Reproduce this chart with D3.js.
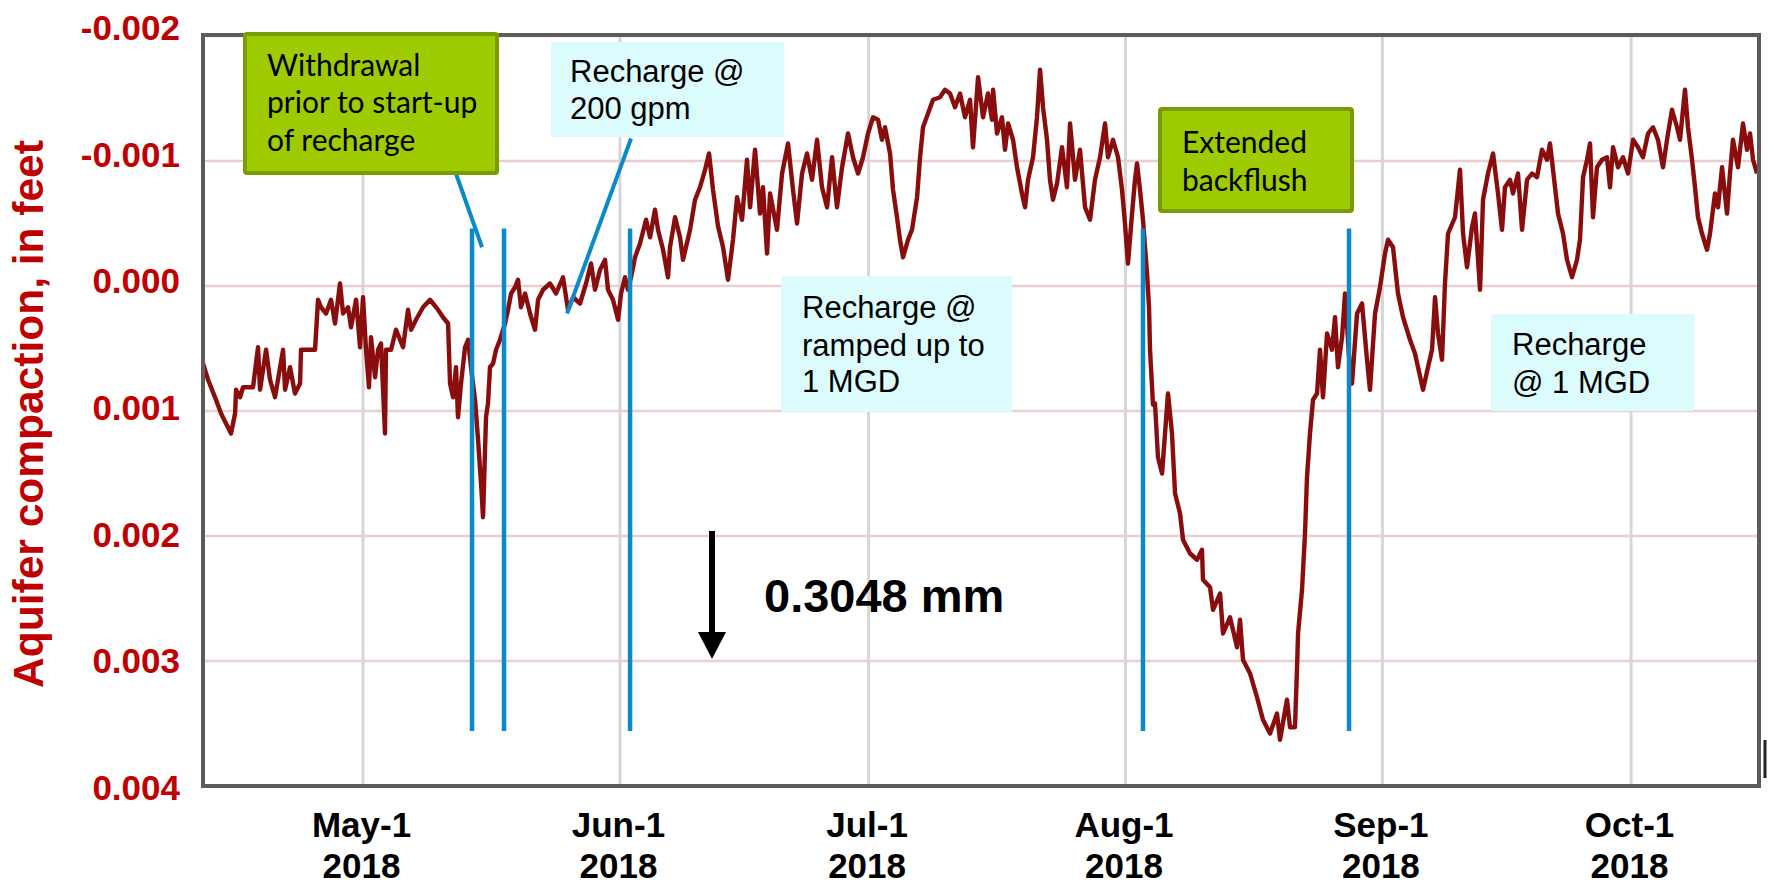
<!DOCTYPE html>
<html>
<head>
<meta charset="utf-8">
<script src="https://cdn.jsdelivr.net/npm/d3@7"></script>
<style>
  body { margin: 0; background: #fff; }
  .chart text { font-family: "Liberation Sans", Arial, sans-serif; }
  .chart .calibri { font-family: Lato, "Open Sans", sans-serif; }
</style>
</head>
<body>
<div class="chart"></div>
<script>
// days since Jan 1 2018 (fractional) and aquifer compaction in feet
const daysSinceJan1 = [
  100.69,101.30,102.26,102.87,103.47,104.07,104.56,104.68,105.16,105.52,
  106.73,107.33,107.57,108.30,108.78,109.38,110.35,110.59,111.19,111.79,
  112.40,112.52,113.60,114.21,114.57,114.93,115.54,116.14,116.62,117.22,
  117.59,118.19,118.55,119.16,119.64,120.00,120.36,120.72,120.96,121.45,
  121.81,122.17,122.65,122.77,123.38,123.98,124.83,125.43,125.79,126.39,
  127.24,128.08,128.45,129.05,129.65,130.26,130.50,130.86,131.22,131.46,
  131.82,132.31,132.67,133.03,133.51,133.88,134.24,134.48,134.72,134.84,
  135.08,135.32,135.69,136.05,136.53,137.13,137.50,137.86,138.34,138.70,
  139.06,139.55,140.15,140.75,141.12,141.72,142.56,143.29,144.13,144.73,
  145.34,146.18,146.91,147.51,147.99,148.60,149.20,149.56,150.16,150.77,
  151.13,151.61,151.97,152.34,152.82,153.42,154.15,154.63,155.23,155.59,
  156.20,156.80,157.04,157.65,158.25,158.61,159.46,160.06,160.66,161.27,
  161.75,162.23,162.83,163.44,164.04,164.64,165.13,165.73,166.33,166.70,
  167.30,167.90,168.26,168.75,169.11,169.95,170.56,171.28,171.88,172.37,
  172.97,173.57,174.18,174.78,175.38,175.99,176.59,177.19,177.80,178.52,
  179.12,179.73,180.33,180.93,181.54,182.14,182.62,182.98,183.59,183.95,
  184.43,184.79,185.16,185.76,186.24,186.85,187.21,187.57,188.17,188.78,
  189.62,190.22,190.83,191.43,192.03,192.64,193.24,193.60,194.21,194.81,
  195.41,195.89,196.02,196.50,197.10,197.46,197.83,198.43,198.91,199.51,
  199.88,200.24,200.84,201.32,201.69,202.05,202.53,202.89,203.25,203.74,
  204.34,204.94,205.31,205.91,206.51,207.12,207.72,208.32,208.93,209.53,
  209.89,210.49,211.10,211.58,211.94,212.30,212.79,213.15,213.39,213.75,
  214.11,214.60,214.84,214.96,215.32,215.56,215.92,216.41,216.77,217.13,
  217.61,217.98,218.58,218.94,219.79,220.63,221.23,221.35,222.20,222.56,
  223.41,223.77,224.61,225.46,225.82,226.18,227.03,227.87,228.59,229.44,
  230.28,230.64,231.49,231.85,232.45,232.70,232.82,233.30,233.66,233.90,
  234.26,234.63,235.11,235.47,235.83,236.32,236.92,237.28,237.64,238.13,
  238.49,238.85,239.09,239.33,239.94,240.54,241.14,241.50,242.11,242.71,
  243.31,243.68,244.28,244.88,245.49,246.33,246.93,247.30,247.90,248.50,
  248.99,249.35,249.71,250.19,250.55,250.92,251.76,252.36,252.73,253.21,
  253.81,254.17,254.78,255.14,255.74,256.35,256.95,257.43,257.79,258.40,
  258.76,259.36,259.85,260.45,261.05,261.65,262.26,262.86,263.22,263.83,
  264.19,264.79,265.27,265.88,266.48,266.84,267.21,267.69,268.05,268.41,
  268.89,269.50,270.10,270.46,270.83,271.43,272.03,272.64,273.24,273.84,
  274.44,275.05,275.65,276.25,276.86,277.34,277.94,278.55,278.91,279.51,
  279.87,280.36,280.72,281.08,281.56,282.17,282.53,283.13,283.49,283.98,
  284.58,284.94,285.30,285.91,286.51,286.99,287.36,287.72,288.20
];

const compaction = [
  0.00062,0.00075,0.00091,0.00102,0.00110,0.00118,0.00102,0.00083,0.00089,0.00081,
  0.00081,0.00049,0.00083,0.00051,0.00075,0.00089,0.00051,0.00083,0.00065,0.00086,
  0.00078,0.00051,0.00051,0.00051,0.00011,0.00017,0.00022,0.00011,0.00030,-0.00002,
  0.00022,0.00017,0.00033,0.00011,0.00049,0.00009,0.00051,0.00081,0.00041,0.00073,
  0.00051,0.00046,0.00118,0.00051,0.00051,0.00035,0.00049,0.00019,0.00035,0.00027,
  0.00017,0.00011,0.00014,0.00019,0.00025,0.00030,0.00078,0.00089,0.00065,0.00105,
  0.00078,0.00049,0.00043,0.00065,0.00091,0.00123,0.00158,0.00185,0.00131,0.00105,
  0.00094,0.00065,0.00062,0.00051,0.00043,0.00030,0.00019,0.00006,0.00001,-0.00005,
  0.00017,0.00006,0.00022,0.00035,0.00011,0.00003,-0.00002,0.00006,-0.00007,0.00019,
  0.00009,0.00014,-0.00002,-0.00018,0.00003,-0.00013,-0.00021,0.00003,0.00011,0.00027,
  0.00006,-0.00007,0.00003,-0.00007,-0.00023,-0.00034,-0.00053,-0.00039,-0.00061,-0.00045,
  -0.00029,-0.00007,-0.00031,-0.00055,-0.00039,-0.00021,-0.00045,-0.00069,-0.00079,-0.00093,
  -0.00106,-0.00077,-0.00048,-0.00031,-0.00005,-0.00037,-0.00071,-0.00053,-0.00101,-0.00063,
  -0.00109,-0.00058,-0.00079,-0.00026,-0.00074,-0.00045,-0.00090,-0.00114,-0.00077,-0.00050,
  -0.00090,-0.00106,-0.00085,-0.00117,-0.00079,-0.00063,-0.00103,-0.00063,-0.00095,-0.00122,
  -0.00103,-0.00090,-0.00103,-0.00122,-0.00135,-0.00133,-0.00117,-0.00127,-0.00106,-0.00077,
  -0.00055,-0.00037,-0.00023,-0.00037,-0.00045,-0.00071,-0.00103,-0.00127,-0.00138,-0.00149,
  -0.00151,-0.00157,-0.00154,-0.00143,-0.00154,-0.00135,-0.00149,-0.00111,-0.00167,-0.00135,
  -0.00154,-0.00133,-0.00157,-0.00122,-0.00135,-0.00109,-0.00130,-0.00117,-0.00095,-0.00074,
  -0.00063,-0.00085,-0.00103,-0.00135,-0.00173,-0.00143,-0.00117,-0.00085,-0.00069,-0.00082,
  -0.00111,-0.00079,-0.00130,-0.00085,-0.00109,-0.00063,-0.00053,-0.00085,-0.00103,-0.00130,
  -0.00103,-0.00117,-0.00103,-0.00077,-0.00050,-0.00018,-0.00058,-0.00085,-0.00098,-0.00077,
  -0.00053,-0.00010,0.00017,0.00051,0.00095,0.00094,0.00137,0.00150,0.00118,0.00086,
  0.00118,0.00166,0.00182,0.00203,0.00214,0.00219,0.00211,0.00235,0.00241,0.00259,
  0.00246,0.00278,0.00265,0.00289,0.00267,0.00299,0.00310,0.00329,0.00347,0.00358,
  0.00342,0.00363,0.00331,0.00353,0.00353,0.00305,0.00278,0.00243,0.00198,0.00153,
  0.00118,0.00091,0.00086,0.00051,0.00089,0.00038,0.00051,0.00025,0.00065,0.00041,
  0.00006,0.00043,0.00070,0.00078,0.00022,0.00014,0.00059,0.00083,0.00022,0.00001,
  -0.00026,-0.00037,-0.00031,0.00006,0.00025,0.00043,0.00054,0.00065,0.00083,0.00065,
  0.00051,0.00009,0.00038,0.00059,-0.00002,-0.00042,-0.00055,-0.00093,-0.00042,-0.00015,
  -0.00047,-0.00058,0.00003,-0.00069,-0.00090,-0.00106,-0.00074,-0.00045,-0.00079,-0.00085,
  -0.00074,-0.00090,-0.00045,-0.00085,-0.00090,-0.00087,-0.00109,-0.00101,-0.00114,-0.00079,
  -0.00058,-0.00042,-0.00021,-0.00007,-0.00021,-0.00037,-0.00087,-0.00101,-0.00114,-0.00055,
  -0.00095,-0.00101,-0.00103,-0.00079,-0.00111,-0.00095,-0.00103,-0.00090,-0.00117,-0.00111,
  -0.00103,-0.00122,-0.00127,-0.00117,-0.00095,-0.00117,-0.00141,-0.00127,-0.00117,-0.00157,
  -0.00127,-0.00101,-0.00079,-0.00055,-0.00042,-0.00029,-0.00042,-0.00074,-0.00063,-0.00095,
  -0.00058,-0.00090,-0.00117,-0.00095,-0.00130,-0.00109,-0.00122,-0.00101,-0.00090
];

const monthStarts = ['2018-05-01', '2018-06-01', '2018-07-01', '2018-08-01', '2018-09-01', '2018-10-01'];
const monthLabels = ['May-1', 'Jun-1', 'Jul-1', 'Aug-1', 'Sep-1', 'Oct-1'];
const yearLabel = '2018';
const yTicks = [-0.002, -0.001, 0.000, 0.001, 0.002, 0.003, 0.004];

// blue event lines (days since Jan 1)
const eventDays = [133.15, 137.01, 152.22, 214.11, 238.97];

const margin = { top: 36, right: 10, bottom: 100, left: 203 };
const fullWidth = 1769;
const fullHeight = 886;
const width = fullWidth - margin.left - margin.right;
const height = fullHeight - margin.top - margin.bottom;

const toDate = d => new Date(Date.UTC(2018, 0, 1) + d * 864e5);
const data = daysSinceJan1.map((d, i) => ({ date: toDate(d), value: compaction[i] }));

const svg = d3.select('.chart')
  .append('svg')
    .attr('width', fullWidth)
    .attr('height', fullHeight);

const defs = svg.append('defs');
defs.append('clipPath').attr('id', 'plot-clip')
  .append('rect').attr('x', 0).attr('y', 0).attr('width', width).attr('height', height);
defs.append('filter').attr('id', 'soft')
  .append('feGaussianBlur').attr('stdDeviation', 0.6);

const chart = svg.append('g')
  .attr('transform', `translate(${margin.left}, ${margin.top})`);

const xScale = d3.scaleUtc()
  .domain([toDate(100.69), toDate(288.44)])
  .range([0, width]);

const yScale = d3.scaleLinear()
  .domain([-0.002, 0.004])
  .range([0, height]);

// tick labels in the source sit slightly off the grid lines
const labelY = d3.scaleLinear()
  .domain([-0.002, 0.004])
  .range([-9, height + 1]);

const parseDay = d3.utcParse('%Y-%m-%d');
const monthDates = monthStarts.map(parseDay);

// grid
chart.append('g')
  .selectAll('line')
  .data(yTicks)
  .enter()
  .append('line')
    .attr('x1', 0).attr('x2', width)
    .attr('y1', d => yScale(d)).attr('y2', d => yScale(d))
    .attr('stroke', '#ebcfcf')
    .attr('stroke-width', 2.5);

chart.append('g')
  .selectAll('line')
  .data(monthDates)
  .enter()
  .append('line')
    .attr('x1', d => xScale(d)).attr('x2', d => xScale(d))
    .attr('y1', 0).attr('y2', height)
    .attr('stroke', '#d6d6d6')
    .attr('stroke-width', 3);

// data line
const line = d3.line()
  .x(d => xScale(d.date))
  .y(d => yScale(d.value));

chart.append('path')
  .datum(data)
  .attr('clip-path', 'url(#plot-clip)')
  .attr('d', line)
  .attr('fill', 'none')
  .attr('stroke', '#8a0a0a')
  .attr('stroke-width', 4.4)
  .attr('stroke-linejoin', 'round')
  .attr('filter', 'url(#soft)');

// event lines
const blue = '#0a8bc9';
chart.append('g')
  .selectAll('line')
  .data(eventDays)
  .enter()
  .append('line')
    .attr('x1', d => xScale(toDate(d))).attr('x2', d => xScale(toDate(d)))
    .attr('y1', yScale(-0.00046)).attr('y2', yScale(0.00356))
    .attr('stroke', blue)
    .attr('stroke-width', 4.5);

// leader lines from the boxes
const leaders = [
  [[131.10, -0.00092], [134.36, -0.00031]],
  [[152.34, -0.00118], [144.61, 0.00022]]
];
chart.append('g')
  .selectAll('line')
  .data(leaders)
  .enter()
  .append('line')
    .attr('x1', d => xScale(toDate(d[0][0]))).attr('y1', d => yScale(d[0][1]))
    .attr('x2', d => xScale(toDate(d[1][0]))).attr('y2', d => yScale(d[1][1]))
    .attr('stroke', blue)
    .attr('stroke-width', 4);

// frame
chart.append('rect')
  .attr('x', 0).attr('y', -1)
  .attr('width', width).attr('height', height + 1)
  .attr('fill', 'none')
  .attr('stroke', '#5c5c5c')
  .attr('stroke-width', 4);

// y axis
const yAxis = d3.axisLeft(yScale)
  .tickValues(yTicks)
  .tickSize(0)
  .tickPadding(23)
  .tickFormat(d => d.toFixed(3));

chart.append('g')
  .call(yAxis)
  .call(g => g.select('.domain').remove())
  .selectAll('text')
    .attr('y', d => labelY(d) - yScale(d))
    .attr('dy', '0.36em')
    .attr('fill', '#c00000')
    .style('font-size', '35px')
    .style('font-weight', 'bold');

// x axis
const xAxis = d3.axisBottom(xScale)
  .tickValues(monthDates)
  .tickSize(0)
  .tickFormat('');

const xg = chart.append('g')
  .attr('transform', `translate(0, ${height})`)
  .call(xAxis)
  .call(g => g.select('.domain').remove());

xg.selectAll('.tick text').remove();
const tickText = xg.selectAll('.tick')
  .append('text')
    .attr('text-anchor', 'middle')
    .attr('fill', '#000')
    .style('font-size', '35px')
    .style('font-weight', 'bold');
tickText.append('tspan').attr('x', -2).attr('y', 51).text((d, i) => monthLabels[i]);
tickText.append('tspan').attr('x', -2).attr('y', 92).text(yearLabel);

// y axis title
svg.append('text')
  .attr('transform', 'translate(43, 414) rotate(-90)')
  .attr('text-anchor', 'middle')
  .attr('fill', '#c00000')
  .style('font-size', '42.5px')
  .style('font-weight', 'bold')
  .text('Aquifer compaction, in feet');

// annotation boxes
function box(x, y, w, h, kind, lines, tx, baselines) {
  const g = svg.append('g');
  g.append('rect')
    .attr('x', x).attr('y', y)
    .attr('width', w).attr('height', h)
    .attr('rx', kind === 'green' ? 2 : 0)
    .attr('fill', kind === 'green' ? '#9dcb00' : '#dcfbfd')
    .attr('stroke', kind === 'green' ? '#799d00' : 'none')
    .attr('stroke-width', 4);
  g.selectAll('text')
    .data(lines)
    .enter()
    .append('text')
      .attr('class', kind === 'green' ? 'calibri' : null)
      .attr('x', tx)
      .attr('y', (d, i) => baselines[i])
      .attr('fill', '#000')
      .style('font-size', kind === 'green' ? '30px' : '31px')
      .text(d => d);
}

box(245, 34, 252, 139, 'green', ['Withdrawal', 'prior to start-up', 'of recharge'], 267, [76, 113, 151]);
box(551, 42, 233, 95, 'cyan', ['Recharge @', '200 gpm'], 570, [82, 119]);
box(781, 276, 231, 136, 'cyan', ['Recharge @', 'ramped up to', '1 MGD'], 802, [318, 356, 392]);
box(1160, 109, 192, 102, 'green', ['Extended', 'backflush'], 1182, [153, 191]);
box(1491, 314, 203, 97, 'cyan', ['Recharge', '@ 1 MGD'], 1512, [355, 393]);

// scale arrow
svg.append('line')
  .attr('x1', 712).attr('y1', 531)
  .attr('x2', 712).attr('y2', 636)
  .attr('stroke', '#000')
  .attr('stroke-width', 6);
svg.append('path')
  .attr('d', 'M698,632 L726,632 L712,659 Z')
  .attr('fill', '#000');
svg.append('text')
  .attr('x', 764).attr('y', 612)
  .attr('fill', '#000')
  .style('font-size', '47px')
  .style('font-weight', 'bold')
  .text('0.3048 mm');

// stray edge mark at the right of the frame
svg.append('line')
  .attr('x1', 1765).attr('y1', 740)
  .attr('x2', 1765).attr('y2', 778)
  .attr('stroke', '#222')
  .attr('stroke-width', 3);
</script>
</body>
</html>
